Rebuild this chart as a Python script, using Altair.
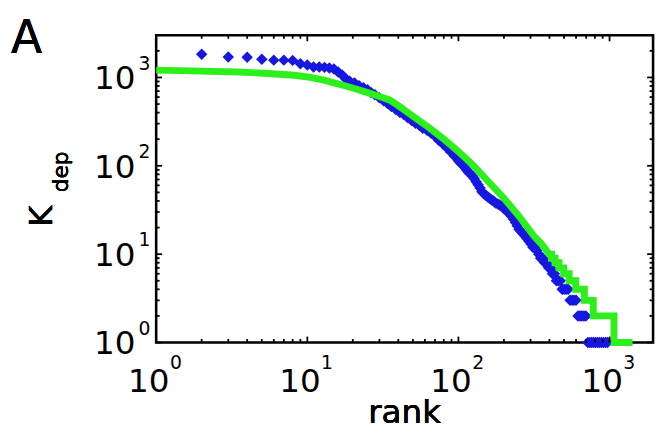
import altair as alt
import pandas as pd

# ---- data ----
blue_rank = [2, 3, 4, 5, 6, 7, 8, 9, 10, 11, 12, 13, 14, 15, 16, 17,
             18, 19, 20.5, 22, 23.5, 25, 26.5, 28, 30, 32, 34, 36, 38.5, 41, 43.5, 46, 49, 52, 55, 58,
             62, 66, 70, 74, 79, 84, 89, 94,
             100, 103, 106, 110, 113, 116, 120, 124, 127, 131, 135, 139, 143, 148, 152, 157, 161, 166,
             171, 176, 182, 187, 193, 199, 205, 211, 218, 224, 231, 238, 245, 252, 260, 268, 276, 284,
             293, 302, 311, 320, 330, 340, 350, 361, 372, 383, 395, 407, 419, 432, 445, 458, 472, 486,
             501, 516, 532, 548, 565, 582, 600, 618, 637, 656, 676, 697, 718, 740, 762, 785, 809, 834,
             859, 885, 912, 940, 968]
blue_k = [1830, 1700, 1690, 1610, 1570, 1570, 1560, 1430, 1380, 1310, 1310, 1300, 1280, 1245, 1150, 1066,
          962, 914, 868, 803, 763, 725, 671, 637, 590, 546, 506, 468, 433, 400, 381, 352, 326, 302, 287, 266,
          252, 234, 216, 195, 176, 159, 143, 129,
          114, 108, 103, 96, 90, 85, 81, 76, 72, 66, 61, 56, 51, 48, 46, 44, 43, 41,
          40, 38, 37, 36, 35, 33, 32, 30, 29, 27, 25, 23, 21, 19, 18, 17, 16, 15,
          14, 13, 12, 12, 11, 10, 9, 9, 8, 8, 7, 7, 6, 6, 5, 5, 5, 4,
          4, 4, 4, 3, 3, 3, 3, 2, 2, 2, 2, 2, 1, 1, 1, 1, 1, 1,
          1, 1, 1, 1, 1]

green_rank = [1, 2, 3.5, 5.5, 8.2, 10.5, 12.9, 15, 17.5, 21,
              26, 30, 35, 40, 50, 63, 79, 100, 126, 158,
              200, 251, 316, 355, 398,
              413, 413, 436, 436, 463, 463, 497, 497, 540, 540,
              597, 597, 681, 681, 780, 780, 1070, 1070, 1420]
green_k = [1210, 1180, 1152, 1110, 1060, 1000, 930, 870, 810, 740,
           660, 610, 556, 479, 363, 275, 204, 145, 100, 66,
           43, 27, 16, 13, 10,
           10, 9, 9, 8, 8, 7, 7, 6, 6, 5,
           5, 4, 4, 3, 3, 2, 2, 1, 1]

major_ticks = [1, 10, 100, 1000]
exponents = ["0", "1", "2", "3"]
x_minor = [2, 3, 4, 5, 6, 7, 8, 9, 20, 30, 40, 50, 60, 70, 80, 90,
           200, 300, 400, 500, 600, 700, 800, 900]
y_minor = x_minor + [2000]

X_DOMAIN = [1, 1940]
Y_DOMAIN = [1, 3000]
W, H = 503, 311
FONT = "DejaVu Sans"

xs = alt.Scale(type="log", domain=X_DOMAIN, nice=False)
ys = alt.Scale(type="log", domain=Y_DOMAIN, nice=False)

blue_df = pd.DataFrame({"rank": blue_rank, "K": blue_k})
green_df = pd.DataFrame({"rank": green_rank, "K": green_k, "i": list(range(len(green_rank)))})
major_df = pd.DataFrame({"v": major_ticks, "e": exponents, "b": ["10"] * 4})
xminor_df = pd.DataFrame({"v": x_minor})
yminor_df = pd.DataFrame({"v": y_minor})

blue = alt.Chart(blue_df).mark_point(shape="diamond", filled=True, size=135, opacity=1,
                                     color="#1717e2").encode(
    x=alt.X("rank:Q", scale=xs, axis=None),
    y=alt.Y("K:Q", scale=ys, axis=None),
)

green = alt.Chart(green_df).mark_line(color="#2cef1c", strokeWidth=7, strokeCap="butt",
                                      strokeJoin="miter").encode(
    x=alt.X("rank:Q", scale=xs, axis=None),
    y=alt.Y("K:Q", scale=ys, axis=None),
    order="i:Q",
)

MAJ, MIN = 6, 3.5
tick_style = dict(color="black", strokeWidth=1.8)


def xticks(df, L):
    b = alt.Chart(df).mark_rule(**tick_style).encode(
        x=alt.X("v:Q", scale=xs, axis=None), y=alt.value(H), y2=alt.value(H - L))
    t = alt.Chart(df).mark_rule(**tick_style).encode(
        x=alt.X("v:Q", scale=xs, axis=None), y=alt.value(0), y2=alt.value(L))
    return [b, t]


def yticks(df, L):
    l = alt.Chart(df).mark_rule(**tick_style).encode(
        y=alt.Y("v:Q", scale=ys, axis=None), x=alt.value(0), x2=alt.value(L))
    r = alt.Chart(df).mark_rule(**tick_style).encode(
        y=alt.Y("v:Q", scale=ys, axis=None), x=alt.value(W), x2=alt.value(W - L))
    return [l, r]


ticks = xticks(major_df, MAJ) + xticks(xminor_df, MIN) + yticks(major_df, MAJ) + yticks(yminor_df, MIN)

# tick labels 10^n
xl_base = alt.Chart(major_df).mark_text(font=FONT, fontSize=33, align="center", baseline="alphabetic",
                                        dx=-7.5, color="black").encode(
    x=alt.X("v:Q", scale=xs, axis=None), y=alt.value(H + 50), text="b:N")
xl_exp = alt.Chart(major_df).mark_text(font=FONT, fontSize=19, align="center", baseline="alphabetic",
                                       dx=20, color="black").encode(
    x=alt.X("v:Q", scale=xs, axis=None), y=alt.value(H + 27), text="e:N")
yl_base = alt.Chart(major_df).mark_text(font=FONT, fontSize=33, align="right", baseline="alphabetic",
                                        dy=12, color="black").encode(
    y=alt.Y("v:Q", scale=ys, axis=None), x=alt.value(-21), text="b:N")
yl_exp = alt.Chart(major_df).mark_text(font=FONT, fontSize=19, align="left", baseline="alphabetic",
                                       dy=-8, color="black").encode(
    y=alt.Y("v:Q", scale=ys, axis=None), x=alt.value(-18), text="e:N")

# titles
x_title = alt.Chart(major_df).mark_text(text="rank", font=FONT, fontSize=33, align="center",
                                        baseline="alphabetic", color="black").encode(
    x=alt.value(W / 2), y=alt.value(H + 81))
y_title_k = alt.Chart(major_df).mark_text(text="K", font=FONT, fontSize=33, align="left",
                                          baseline="alphabetic", angle=270, color="black").encode(
    x=alt.value(-105), y=alt.value(194))
y_title_sub = alt.Chart(major_df).mark_text(text="dep", font=FONT, fontSize=22, align="left",
                                            baseline="alphabetic", angle=270, color="black").encode(
    x=alt.value(-89), y=alt.value(159))
panel = alt.Chart(major_df).mark_text(text="A", font=FONT, fontSize=46, align="left",
                                      baseline="alphabetic", color="black").encode(
    x=alt.value(-147), y=alt.value(18))

chart = alt.layer(
    blue, green, *ticks, xl_base, xl_exp, yl_base, yl_exp, x_title, y_title_k, y_title_sub, panel
).properties(
    width=W, height=H,
    autosize=alt.AutoSizeParams(type="none"),
    padding={"left": 150, "top": 25, "right": 5, "bottom": 90},
    background="white",
).configure_view(stroke="black", strokeWidth=2.6)

chart.save("out.html", embed_options={"renderer": "svg", "actions": False})
